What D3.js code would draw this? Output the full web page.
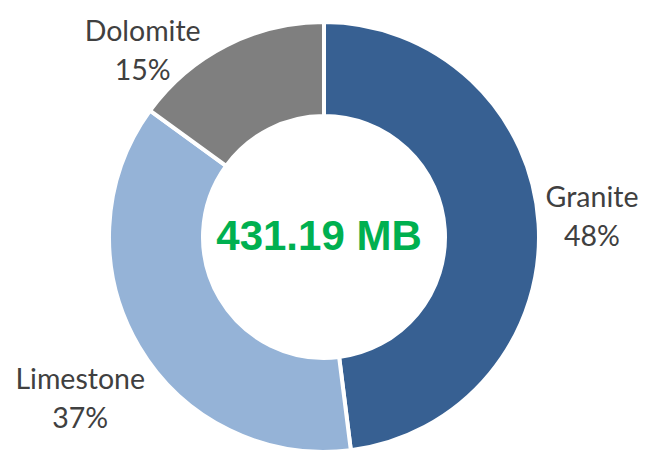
<!DOCTYPE html>
<html>
<head>
<meta http-equiv="Content-type" content="text/html; charset=utf-8">
<title>Rock types donut</title>
<script src="https://cdn.jsdelivr.net/npm/d3@7"></script>
<style>
  body { margin: 0; background: #ffffff; }
  .lbl { font-family: Lato, "Open Sans", sans-serif; fill: #404040; }
</style>
</head>
<body>
<script type="text/javascript">

  // DATA
  var categories = ["Granite", "Limestone", "Dolomite"];
  var sizesMB = [207.0, 159.5, 64.69];          // slice sizes, MB
  var pctLabels = ["48%", "37%", "15%"];        // labels as printed
  var colors = ["#376092", "#95B3D7", "#7F7F7F"];
  var totalLabel = "431.19 MB";

  // layout
  var width = 646, height = 456;
  var cx = 324, cy = 237;
  var outerR = 215, innerR = 121;
  // label anchor: angle (deg, clockwise from top) and distance from centre
  var labelAt = [[85.1, 269], [236.9, 291], [316.2, 262]];

  var svg = d3.select("body").append("svg")
      .attr("width", width)
      .attr("height", height);

  var g = svg.append("g").attr("transform", "translate(" + cx + "," + cy + ")");

  var pie = d3.pie().sort(null).value(function (d) { return d; });
  var arc = d3.arc().innerRadius(innerR).outerRadius(outerR);

  var slices = pie(sizesMB);

  g.selectAll("path.slice")
    .data(slices)
    .enter().append("path")
    .attr("class", "slice")
    .attr("d", arc)
    .attr("fill", function (d, i) { return colors[i]; })
    .attr("stroke", "#ffffff")
    .attr("stroke-width", 4)
    .attr("stroke-linejoin", "miter");

  // category + percent labels
  var lab = g.selectAll("text.lbl")
    .data(slices)
    .enter().append("text")
    .attr("class", "lbl")
    .attr("text-anchor", "middle")
    .attr("font-size", 28.5)
    .attr("transform", function (d, i) {
      var a = labelAt[i][0] * Math.PI / 180, r = labelAt[i][1];
      return "translate(" + (Math.sin(a) * r) + "," + (-Math.cos(a) * r) + ")";
    });

  lab.append("tspan").attr("x", 0).attr("y", -7)
    .text(function (d, i) { return categories[i]; });
  lab.append("tspan").attr("x", 0).attr("y", 32)
    .text(function (d, i) { return pctLabels[i]; });

  // centre total
  g.append("text")
    .attr("x", -5)
    .attr("y", 13)
    .attr("text-anchor", "middle")
    .attr("font-family", "'Liberation Sans', Arial, sans-serif")
    .attr("font-weight", "bold")
    .attr("font-size", 42)
    .attr("fill", "#00B050")
    .text(totalLabel);

</script>
</body>
</html>
